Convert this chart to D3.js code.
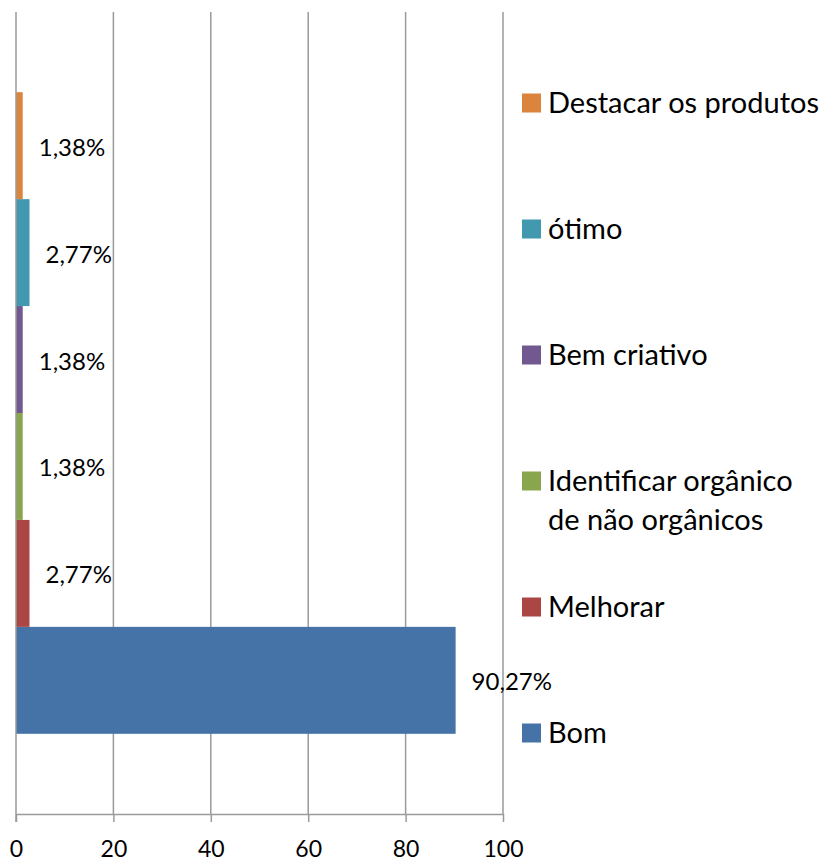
<!DOCTYPE html>
<html>
<head>
<meta charset="utf-8">
<script src="https://cdn.jsdelivr.net/npm/d3@7"></script>
<style>
  body { margin: 0; background: #fff; }
  text { font-family: Lato, "Open Sans", sans-serif; fill: #000; }
</style>
</head>
<body>
<div id="vis-container"></div>
<script>
// chart data
const categories = ["Bom", "Melhorar", "Identificar orgânico de não orgânicos", "Bem criativo", "ótimo", "Destacar os produtos"];
const values = [90.27, 2.77, 1.38, 1.38, 2.77, 1.38];
const valueLabels = ["90,27%", "2,77%", "1,38%", "1,38%", "2,77%", "1,38%"];
const colors = ["#4572A7", "#AA4643", "#89A54E", "#71588F", "#4198AF", "#DB843D"];
const xTicks = [0, 20, 40, 60, 80, 100];

const width = 825;
const height = 862;
const plot = { left: 16, right: 503, top: 12, bottom: 814 };

const svg = d3.select("#vis-container")
  .append("svg")
    .attr("width", width)
    .attr("height", height);

const data = categories.map((c, i) => ({ name: c, value: values[i], label: valueLabels[i], color: colors[i] }));

// Scales
const x = d3.scaleLinear()
  .domain([0, 100])
  .range([plot.left, plot.right]);

// Destacar on top, Bom at the bottom
const y = d3.scaleBand()
  .domain(categories.slice().reverse())
  .range([plot.top, plot.bottom])
  .paddingInner(0)
  .paddingOuter(0.75);

// gridlines
svg.append("g")
  .selectAll("line")
  .data(xTicks.slice(1))
  .enter()
  .append("line")
    .attr("x1", d => x(d))
    .attr("x2", d => x(d))
    .attr("y1", plot.top)
    .attr("y2", plot.bottom)
    .attr("stroke", "#9a9a9a")
    .attr("stroke-width", 1.5);

// bars
svg.append("g")
  .selectAll("rect")
  .data(data)
  .enter()
  .append("rect")
    .attr("x", x(0))
    .attr("y", d => y(d.name))
    .attr("width", d => x(d.value) - x(0))
    .attr("height", y.bandwidth())
    .attr("fill", d => d.color);

// value labels
svg.append("g")
  .selectAll("text")
  .data(data)
  .enter()
  .append("text")
    .attr("x", d => x(d.value) + 16)
    .attr("y", d => y(d.name) + y.bandwidth() / 2 + 10)
    .attr("font-size", 24)
    .text(d => d.label);

// axes
const xAxis = svg.append("g")
  .attr("transform", `translate(0, ${plot.bottom})`)
  .call(d3.axisBottom(x).tickValues(xTicks).tickSize(8).tickSizeOuter(0).tickPadding(19));
xAxis.select(".domain").attr("stroke", "#9a9a9a").attr("stroke-width", 1.5);
xAxis.selectAll(".tick line").attr("stroke", "#9a9a9a").attr("stroke-width", 1.5);
xAxis.selectAll(".tick text")
  .attr("font-size", 23)
  .attr("font-family", "Lato, 'Open Sans', sans-serif")
  .attr("fill", "#000");

svg.append("line")
  .attr("x1", plot.left)
  .attr("x2", plot.left)
  .attr("y1", plot.top)
  .attr("y2", plot.bottom + 8)
  .attr("stroke", "#9a9a9a")
  .attr("stroke-width", 1.5);

// legend
const legend = svg.append("g")
  .selectAll("g")
  .data(data.slice().reverse())
  .enter()
  .append("g")
    .attr("transform", (d, i) => `translate(522, ${103 + i * 126})`);

legend.append("rect")
  .attr("x", 0)
  .attr("y", -9.5)
  .attr("width", 19)
  .attr("height", 19)
  .attr("fill", d => d.color);

legend.append("text")
  .attr("x", 26)
  .attr("y", 10)
  .attr("font-size", 29)
  .each(function(d) {
    // wrap long names to fit the legend column
    const t = d3.select(this);
    const words = d.name.split(" ");
    let line = [];
    let tspan = t.append("tspan").attr("x", 26).attr("dy", 0);
    words.forEach(w => {
      line.push(w);
      tspan.text(line.join(" "));
      if (tspan.node().getComputedTextLength() > 278 && line.length > 1) {
        line.pop();
        tspan.text(line.join(" "));
        line = [w];
        tspan = t.append("tspan").attr("x", 26).attr("dy", 39).text(w);
      }
    });
  });
</script>
</body>
</html>
